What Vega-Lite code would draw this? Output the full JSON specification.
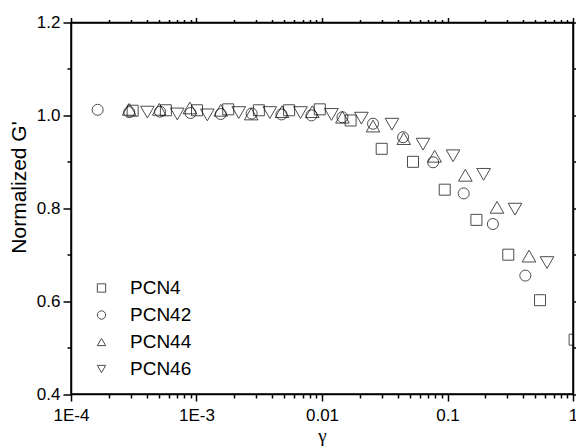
{
  "$schema": "https://vega.github.io/schema/vega-lite/v6.json",
  "width": 502,
  "height": 371.5,
  "autosize": {"type": "none"},
  "padding": {"left": 71, "top": 22.5, "right": 3, "bottom": 52},
  "background": "white",
  "config": {
    "view": {"stroke": "black", "strokeWidth": 1.5},
    "font": "Liberation Sans",
    "axis": {
      "domainColor": "black", "domainWidth": 1.5,
      "tickColor": "black", "tickWidth": 1.5,
      "labelColor": "black", "labelFont": "Liberation Sans", "labelFontSize": 17,
      "titleColor": "black", "titleFontWeight": "normal",
      "grid": false, "labelOverlap": false, "labelFlush": false
    }
  },
  "data": {"values": [
    {"s": "PCN4", "x": 0.00031, "y": 1.010},
    {"s": "PCN4", "x": 0.00057, "y": 1.011},
    {"s": "PCN4", "x": 0.00101, "y": 1.011},
    {"s": "PCN4", "x": 0.00179, "y": 1.013},
    {"s": "PCN4", "x": 0.00314, "y": 1.011},
    {"s": "PCN4", "x": 0.00547, "y": 1.011},
    {"s": "PCN4", "x": 0.0096, "y": 1.013},
    {"s": "PCN4", "x": 0.0169, "y": 0.989},
    {"s": "PCN4", "x": 0.0299, "y": 0.928},
    {"s": "PCN4", "x": 0.0531, "y": 0.900},
    {"s": "PCN4", "x": 0.095, "y": 0.840},
    {"s": "PCN4", "x": 0.170, "y": 0.775},
    {"s": "PCN4", "x": 0.305, "y": 0.700},
    {"s": "PCN4", "x": 0.546, "y": 0.602},
    {"s": "PCN4", "x": 1.03, "y": 0.517},
    {"s": "PCN42", "x": 0.000163, "y": 1.012},
    {"s": "PCN42", "x": 0.000291, "y": 1.007},
    {"s": "PCN42", "x": 0.000512, "y": 1.008},
    {"s": "PCN42", "x": 0.000897, "y": 1.005},
    {"s": "PCN42", "x": 0.00156, "y": 1.003},
    {"s": "PCN42", "x": 0.00275, "y": 1.004},
    {"s": "PCN42", "x": 0.00476, "y": 1.002},
    {"s": "PCN42", "x": 0.00824, "y": 1.000},
    {"s": "PCN42", "x": 0.01455, "y": 0.996},
    {"s": "PCN42", "x": 0.0255, "y": 0.982},
    {"s": "PCN42", "x": 0.0443, "y": 0.953},
    {"s": "PCN42", "x": 0.0768, "y": 0.899},
    {"s": "PCN42", "x": 0.1346, "y": 0.832},
    {"s": "PCN42", "x": 0.230, "y": 0.766},
    {"s": "PCN42", "x": 0.417, "y": 0.655},
    {"s": "PCN44", "x": 0.000291, "y": 1.013},
    {"s": "PCN44", "x": 0.000505, "y": 1.013},
    {"s": "PCN44", "x": 0.000885, "y": 1.016},
    {"s": "PCN44", "x": 0.00156, "y": 1.011},
    {"s": "PCN44", "x": 0.00273, "y": 1.003},
    {"s": "PCN44", "x": 0.0048, "y": 1.008},
    {"s": "PCN44", "x": 0.00837, "y": 1.008},
    {"s": "PCN44", "x": 0.01455, "y": 0.996},
    {"s": "PCN44", "x": 0.0255, "y": 0.977},
    {"s": "PCN44", "x": 0.0448, "y": 0.950},
    {"s": "PCN44", "x": 0.079, "y": 0.912},
    {"s": "PCN44", "x": 0.1387, "y": 0.871},
    {"s": "PCN44", "x": 0.248, "y": 0.802},
    {"s": "PCN44", "x": 0.446, "y": 0.697},
    {"s": "PCN46", "x": 0.000406, "y": 1.007},
    {"s": "PCN46", "x": 0.000703, "y": 1.003},
    {"s": "PCN46", "x": 0.00122, "y": 1.001},
    {"s": "PCN46", "x": 0.00217, "y": 1.006},
    {"s": "PCN46", "x": 0.00384, "y": 1.006},
    {"s": "PCN46", "x": 0.00674, "y": 1.006},
    {"s": "PCN46", "x": 0.0119, "y": 1.002},
    {"s": "PCN46", "x": 0.0206, "y": 0.994},
    {"s": "PCN46", "x": 0.0361, "y": 0.981},
    {"s": "PCN46", "x": 0.0638, "y": 0.938},
    {"s": "PCN46", "x": 0.1107, "y": 0.913},
    {"s": "PCN46", "x": 0.194, "y": 0.873},
    {"s": "PCN46", "x": 0.345, "y": 0.798},
    {"s": "PCN46", "x": 0.621, "y": 0.683}
  ]},
  "layer": [
    {
      "transform": [{"filter": {"field": "s", "oneOf": ["PCN4", "PCN42"]}}],
      "mark": {"type": "point", "filled": false, "stroke": "black", "strokeWidth": 1, "clip": true, "size": 121},
      "encoding": {
        "x": {
          "field": "x", "type": "quantitative",
          "scale": {"type": "log", "domain": [0.0001, 1], "nice": false},
          "axis": {
            "title": "γ", "titleFont": "Liberation Serif", "titleFontSize": 19,
            "titleY": 47, "titleBaseline": "alphabetic",
            "values": [0.0001,0.0002,0.0003,0.0004,0.0005,0.0006,0.0007,0.0008,0.0009,0.001,0.002,0.003,0.004,0.005,0.006,0.007,0.008,0.009,0.01,0.02,0.03,0.04,0.05,0.06,0.07,0.08,0.09,0.1,0.2,0.3,0.4,0.5,0.6,0.7,0.8,0.9,1],
            "labelExpr": "abs(datum.value-0.0001)<1e-9 ? '1E-4' : abs(datum.value-0.001)<1e-8 ? '1E-3' : abs(datum.value-0.01)<1e-7 ? '0.01' : abs(datum.value-0.1)<1e-6 ? '0.1' : abs(datum.value-1)<1e-5 ? '1' : ''",
            "tickSize": {"condition": {"test": "abs(log(datum.value)/LN10 - round(log(datum.value)/LN10)) < 0.01", "value": 7}, "value": 4},
            "labelPadding": 6
          }
        },
        "y": {
          "field": "y", "type": "quantitative",
          "scale": {"domain": [0.4, 1.2], "nice": false, "zero": false},
          "axis": {
            "title": "Normalized G'", "titleFontSize": 21, "titleFont": "Liberation Sans",
            "titleX": -51.5, "titleY": 164.5, "titleAngle": -90, "titleAlign": "center", "titleBaseline": "middle",
            "values": [0.4,0.5,0.6,0.7,0.8,0.9,1.0,1.1,1.2],
            "labelExpr": "round(datum.value*10) % 2 == 0 ? format(datum.value, '.1f') : ''",
            "tickSize": {"condition": {"test": "round(datum.value*10) % 2 == 0", "value": 8}, "value": 4},
            "labelPadding": 3
          }
        },
        "shape": {
          "field": "s", "type": "nominal",
          "scale": {"domain": ["PCN4", "PCN42", "PCN44", "PCN46"], "range": ["square", "circle", "triangle-up", "triangle-down"]},
          "legend": {
            "title": null, "orient": "none", "legendX": 21, "legendY": 256,
            "padding": 0, "symbolSize": 70, "symbolStrokeColor": "black", "symbolFillColor": "transparent",
            "symbolStrokeWidth": 1, "labelFontSize": 19, "labelFont": "Liberation Sans", "labelColor": "black",
            "labelOffset": 19, "rowPadding": 7
          }
        }
      }
    },
    {
      "transform": [{"filter": {"field": "s", "oneOf": ["PCN44", "PCN46"]}}],
      "mark": {"type": "point", "filled": false, "stroke": "black", "strokeWidth": 1, "clip": true, "size": 185},
      "encoding": {
        "x": {"field": "x", "type": "quantitative", "scale": {"type": "log", "domain": [0.0001, 1], "nice": false}, "axis": null},
        "y": {"field": "y", "type": "quantitative", "scale": {"domain": [0.4, 1.2], "nice": false, "zero": false}, "axis": null},
        "shape": {
          "field": "s", "type": "nominal",
          "scale": {"domain": ["PCN4", "PCN42", "PCN44", "PCN46"], "range": ["square", "circle", "triangle-up", "triangle-down"]}
        }
      }
    },
    {
      "mark": {"type": "point", "opacity": 0},
      "encoding": {
        "x": {
          "field": "x", "type": "quantitative",
          "scale": {"type": "log", "domain": [0.0001, 1], "nice": false},
          "axis": {
            "orient": "top", "title": null, "labels": false,
            "values": [0.0001,0.0002,0.0003,0.0004,0.0005,0.0006,0.0007,0.0008,0.0009,0.001,0.002,0.003,0.004,0.005,0.006,0.007,0.008,0.009,0.01,0.02,0.03,0.04,0.05,0.06,0.07,0.08,0.09,0.1,0.2,0.3,0.4,0.5,0.6,0.7,0.8,0.9,1],
            "tickSize": {"condition": {"test": "abs(log(datum.value)/LN10 - round(log(datum.value)/LN10)) < 0.01", "value": 5}, "value": 3}
          }
        },
        "y": {
          "field": "y", "type": "quantitative",
          "scale": {"domain": [0.4, 1.2], "nice": false, "zero": false},
          "axis": {
            "orient": "right", "title": null, "labels": false,
            "values": [0.4,0.5,0.6,0.7,0.8,0.9,1.0,1.1,1.2],
            "tickSize": {"condition": {"test": "round(datum.value*10) % 2 == 0", "value": 5}, "value": 3}
          }
        }
      }
    }
  ],
  "resolve": {"axis": {"x": "independent", "y": "independent"}}
}
